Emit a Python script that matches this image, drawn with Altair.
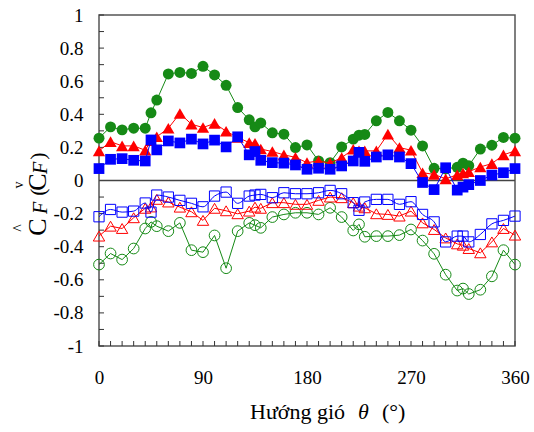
import altair as alt
import pandas as pd

# wind direction (degrees)
angles = [0, 10, 20, 30, 40, 45, 50, 60, 70, 80, 90, 100, 110, 120, 130, 135, 140,
          150, 160, 170, 180, 190, 200, 210, 220, 225, 230, 240, 250, 260, 270,
          280, 290, 300, 310, 315, 320, 330, 340, 350, 360]

green_filled = [0.256, 0.324, 0.306, 0.316, 0.316, 0.409, 0.486, 0.644, 0.653, 0.647, 0.690,
                0.638, 0.575, 0.441, 0.367, 0.324, 0.348, 0.288, 0.280, 0.199, 0.215,
                0.118, 0.108, 0.203, 0.250, 0.274, 0.278, 0.361, 0.411, 0.361, 0.304,
                0.209, 0.074, 0.070, 0.080, 0.105, 0.090, 0.190, 0.213, 0.260, 0.256]
red_filled = [0.179, 0.235, 0.209, 0.209, 0.183, 0.240, 0.264, 0.316, 0.405, 0.340, 0.320,
              0.345, 0.298, 0.260, 0.229, 0.225, 0.190, 0.175, 0.155, 0.140, 0.108,
              0.118, 0.105, 0.138, 0.189, 0.180, 0.179, 0.179, 0.280, 0.199, 0.183,
              0.047, 0.037, 0.010, 0.035, 0.045, 0.053, 0.082, 0.102, 0.155, 0.179]
blue_filled = [0.072, 0.128, 0.132, 0.122, 0.118, 0.245, 0.185, 0.239, 0.227, 0.250, 0.221,
               0.244, 0.203, 0.264, 0.155, 0.175, 0.122, 0.108, 0.105, 0.094, 0.068,
               0.074, 0.068, 0.088, 0.118, 0.170, 0.116, 0.142, 0.155, 0.142, 0.102,
               -0.012, -0.055, 0.077, -0.058, -0.040, -0.025, 0.000, 0.033, 0.047, 0.072]
blue_open = [-0.219, -0.175, -0.191, -0.185, -0.136, -0.191, -0.088, -0.100, -0.120, -0.138,
             -0.159, -0.094, -0.070, -0.138, -0.094, -0.088, -0.084, -0.104, -0.074, -0.080,
             -0.080, -0.074, -0.060, -0.080, -0.134, -0.180, -0.130, -0.114, -0.114, -0.144,
             -0.128, -0.205, -0.250, -0.371, -0.336, -0.336, -0.371, -0.326, -0.262, -0.241,
             -0.215]
red_open = [-0.336, -0.276, -0.290, -0.225, -0.168, -0.160, -0.114, -0.130, -0.161, -0.189,
            -0.241, -0.168, -0.183, -0.201, -0.185, -0.161, -0.168, -0.134, -0.134, -0.144,
            -0.144, -0.120, -0.100, -0.104, -0.134, -0.155, -0.165, -0.201, -0.205, -0.215,
            -0.185, -0.256, -0.296, -0.347, -0.383, -0.391, -0.411, -0.437, -0.371, -0.290,
            -0.330]
green_open = [-0.508, -0.441, -0.478, -0.411, -0.290, -0.250, -0.276, -0.306, -0.256, -0.421,
              -0.433, -0.332, -0.530, -0.306, -0.256, -0.270, -0.286, -0.221, -0.205, -0.195,
              -0.195, -0.205, -0.165, -0.221, -0.302, -0.265, -0.340, -0.336, -0.336, -0.330,
              -0.296, -0.363, -0.443, -0.569, -0.665, -0.653, -0.686, -0.660, -0.579, -0.421,
              -0.508]

x_label_values = [0, 90, 180, 270, 360]
y_label_values = [-1, -0.8, -0.6, -0.4, -0.2, 0, 0.2, 0.4, 0.6, 0.8, 1]
x_tick_values = list(range(0, 361, 10))
y_tick_values = [round(-1 + 0.1 * i, 1) for i in range(21)]

GREEN = "#168a16"
RED = "#ff0000"
BLUE = "#0000ff"
FONT = "Liberation Serif"
W, H = 416, 331

xs = alt.Scale(domain=[0, 360], nice=False, zero=False)
ys = alt.Scale(domain=[-1, 1], nice=False, zero=False)

X_AX = alt.Axis(
    values=x_label_values, ticks=False, domain=False, grid=False, labelFlush=False,
    labelFont=FONT, labelFontSize=19, labelColor="black", labelPadding=22, title="")
Y_AX = alt.Axis(
    values=y_label_values, ticks=False, domain=False, grid=False,
    labelExpr="'' + datum.value",
    labelFont=FONT, labelFontSize=19, labelColor="black", labelPadding=16, title="")


def series(vals, color, shape, filled, size, interp="linear"):
    df = pd.DataFrame({"theta": angles, "v": vals})
    base = alt.Chart(df).encode(
        x=alt.X("theta:Q", scale=xs, axis=X_AX, title=""),
        y=alt.Y("v:Q", scale=ys, axis=Y_AX, title=""),
    )
    line = base.mark_line(color=color, strokeWidth=1, interpolate=interp)
    if filled:
        pts = base.mark_point(shape=shape, filled=True, fill=color, strokeWidth=0,
                              size=size, opacity=1)
    else:
        pts = base.mark_point(shape=shape, filled=False, stroke=color,
                              size=size, opacity=1, strokeWidth=1)
    return [line, pts]


# ticks (inward)
xt = alt.Chart(pd.DataFrame({"theta": x_tick_values})).mark_rule(color="#333", strokeWidth=1).encode(
    x=alt.X("theta:Q", scale=xs, axis=X_AX, title=""),
    y=alt.value(H), y2=alt.value(H - 5),
)
yt = alt.Chart(pd.DataFrame({"v": y_tick_values})).mark_rule(color="#333", strokeWidth=1).encode(
    y=alt.Y("v:Q", scale=ys, axis=Y_AX, title=""),
    x=alt.value(0), x2=alt.value(5),
)

zero = alt.Chart(alt.Data(values=[{"v": 0}])).mark_rule(color="#444", strokeWidth=1.5).encode(
    y=alt.Y("v:Q", scale=ys, axis=Y_AX, title=""), x=alt.value(0), x2=alt.value(W)
)

layers = [xt, yt, zero]
layers += series(green_filled, GREEN, "circle", True, 120)
layers += series(red_filled, RED, "triangle-up", True, 150)
layers += series(blue_filled, BLUE, "square", True, 115)
layers += series(green_open, GREEN, "circle", False, 115)
layers += series(red_open, RED, "triangle-up", False, 130)
layers += series(blue_open, BLUE, "square", False, 105, interp="monotone")

# title pieces
one = alt.Data(values=[{}])
def tpiece(txt, x, y, size, style="normal", angle=270, align="center", baseline="middle"):
    return alt.Chart(one).mark_text(text=txt, angle=angle, font=FONT, fontSize=size,
                                    fontStyle=style, align=align, baseline=baseline,
                                    color="black").encode(x=alt.value(x), y=alt.value(y))

layers += [
    # y title: Ĉ_F (Č_F)
    tpiece("C", -61, 212, 26),
    tpiece("^", -80, 213, 16),
    tpiece("F", -58, 193, 20, "italic"),
    tpiece("(", -61, 177, 22),
    tpiece("C", -61, 167, 26),
    tpiece("v", -80, 170, 14),
    tpiece("F", -58, 153, 20, "italic"),
    tpiece(")", -61, 141, 22),
    # x title: Hướng gió θ (°)
    tpiece("Hướng gió", 151, 404, 22, angle=0, align="left", baseline="alphabetic"),
    tpiece("θ", 259, 404, 22, "italic", angle=0, align="left", baseline="alphabetic"),
    tpiece("(°)", 283, 404, 22, angle=0, align="left", baseline="alphabetic"),
]

chart = alt.layer(*layers).properties(
    width=W, height=H,
    background="white",
    autosize=alt.AutoSizeParams(type="none"),
    padding={"left": 99, "top": 15, "right": 19, "bottom": 86},
).configure_view(stroke="#555", strokeWidth=1.5).configure_axis(
    labelFont=FONT, titleFont=FONT
)

chart.save("out.html", embed_options={"renderer": "svg", "actions": False})
